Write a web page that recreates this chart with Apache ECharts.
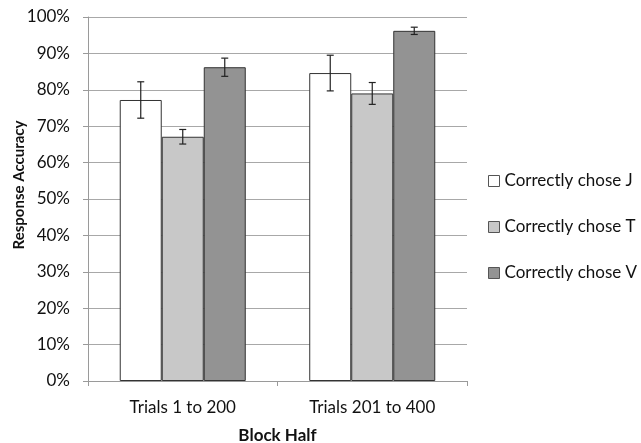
<!DOCTYPE html>
<html>
<head>
<meta charset="utf-8">
<script src="https://cdn.jsdelivr.net/npm/echarts@6/dist/echarts.min.js"></script>
<style>
  html, body { margin: 0; padding: 0; background: #fff; }
  #chart { width: 641px; height: 443px; }
</style>
</head>
<body>
<div id="chart"></div>
<script>
// Categories and series (values in percent)
const categories = ['Trials 1 to 200', 'Trials 201 to 400'];
const seriesNames = ['Correctly chose J', 'Correctly chose T', 'Correctly chose V'];
const valuesJ = [77.2, 84.6];
const valuesT = [67.1, 79.0];
const valuesV = [86.2, 96.2];
// Error bar half-widths (percent)
const errorsJ = [5.0, 4.9];
const errorsT = [2.0, 3.0];
const errorsV = [2.5, 1.0];

const fills = ['#ffffff', '#c8c8c8', '#939393'];
const FONT = 'Lato, "Open Sans", sans-serif';
const FS = 17;
const CATEGORY_GAP = 0.335;

const chart = echarts.init(document.getElementById('chart'));

function barSeries(name, values, color) {
  return {
    name: name,
    type: 'bar',
    data: values,
    barGap: '0%',
    barCategoryGap: (CATEGORY_GAP * 100) + '%',
    itemStyle: { color: color, borderColor: '#333333', borderWidth: 1 },
    emphasis: { disabled: true }
  };
}

// Error bars drawn with a custom series, offset to sit on each bar
function errorSeries(values, errors, slot) {
  return {
    type: 'custom',
    data: values.map((v, i) => [i, v, errors[i]]),
    z: 10,
    silent: true,
    renderItem: function (params, api) {
      const idx = api.value(0);
      const val = api.value(1);
      const err = api.value(2);
      const band = api.size([1, 0])[0];
      const barW = band * (1 - CATEGORY_GAP) / 3;
      const center = api.coord([idx, val]);
      const x = center[0] + (slot - 1) * barW;
      const top = api.coord([idx, val + err])[1];
      const bot = api.coord([idx, val - err])[1];
      const cap = 3.5;
      const style = { stroke: '#222222', lineWidth: 1.2, fill: null };
      return {
        type: 'group',
        children: [
          { type: 'line', shape: { x1: x, y1: top, x2: x, y2: bot }, style: style },
          { type: 'line', shape: { x1: x - cap, y1: top, x2: x + cap, y2: top }, style: style },
          { type: 'line', shape: { x1: x - cap, y1: bot, x2: x + cap, y2: bot }, style: style }
        ]
      };
    }
  };
}

chart.setOption({
  animation: false,
  backgroundColor: '#ffffff',
  textStyle: { fontFamily: FONT },
  grid: { left: 88, right: 174, top: 17, bottom: 62, outerBoundsMode: 'none', containLabel: false },
  legend: {
    orient: 'vertical',
    left: 483,
    top: 166,
    itemGap: 26,
    itemWidth: 11,
    itemHeight: 11,
    icon: 'rect',
    textStyle: { fontFamily: FONT, fontSize: FS, lineHeight: 20, color: '#111111' },
    data: seriesNames.map((n, i) => ({
      name: n,
      itemStyle: { color: fills[i], borderColor: '#555555', borderWidth: 1 }
    }))
  },
  xAxis: {
    type: 'category',
    data: categories,
    name: 'Block Half',
    nameLocation: 'middle',
    nameGap: 46,
    nameMoveOverlap: false,
    nameTextStyle: { fontFamily: FONT, fontSize: FS, fontWeight: 'bold', color: '#111111' },
    axisLine: { lineStyle: { color: '#9a9a9a', width: 1 } },
    axisTick: { show: true, length: 5, lineStyle: { color: '#9a9a9a' } },
    axisLabel: { fontFamily: FONT, fontSize: FS, color: '#111111', margin: 18 }
  },
  yAxis: {
    type: 'value',
    min: 0,
    max: 100,
    interval: 10,
    name: 'Response Accuracy',
    nameLocation: 'middle',
    nameGap: 61,
    nameMoveOverlap: false,
    nameTextStyle: { fontFamily: FONT, fontSize: 15, fontWeight: 'bold', color: '#111111', padding: [0, 0, 0, 28] },
    axisLine: { show: true, lineStyle: { color: '#9a9a9a', width: 1 } },
    axisTick: { show: true, length: 5, lineStyle: { color: '#9a9a9a' } },
    splitLine: { lineStyle: { color: '#a8a8a8', width: 1 } },
    axisLabel: { fontFamily: FONT, fontSize: FS, color: '#111111', margin: 18, formatter: '{value}%' }
  },
  series: [
    barSeries(seriesNames[0], valuesJ, fills[0]),
    barSeries(seriesNames[1], valuesT, fills[1]),
    barSeries(seriesNames[2], valuesV, fills[2]),
    errorSeries(valuesJ, errorsJ, 0),
    errorSeries(valuesT, errorsT, 1),
    errorSeries(valuesV, errorsV, 2)
  ]
});
</script>
</body>
</html>
